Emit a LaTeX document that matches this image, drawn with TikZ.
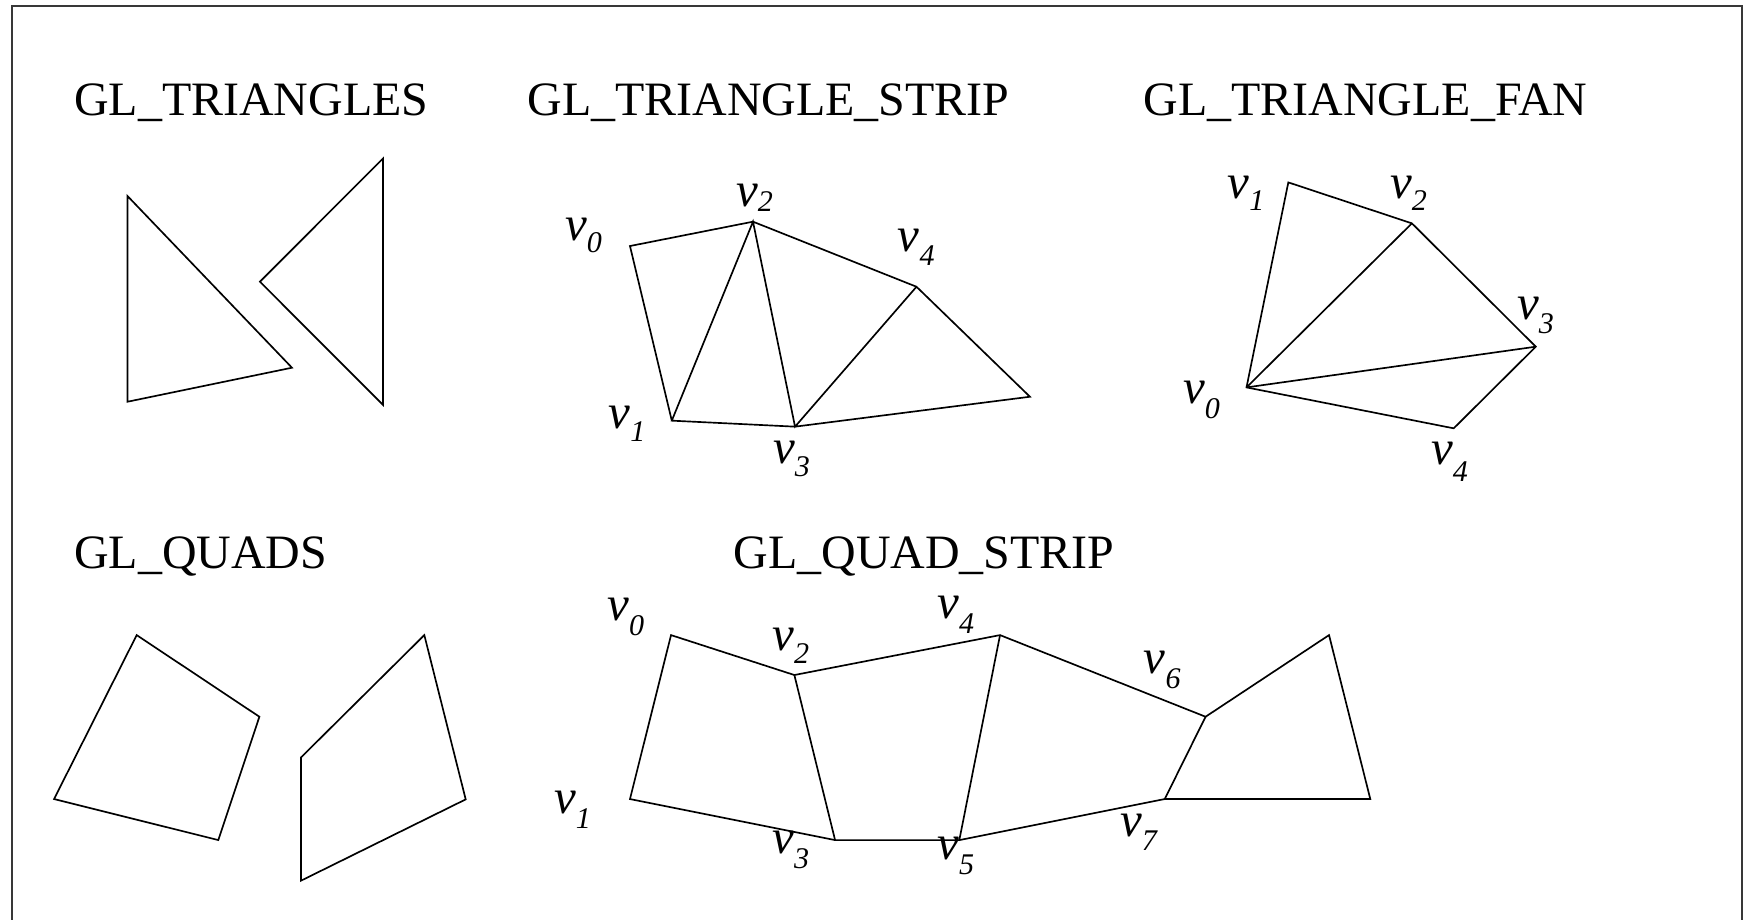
\documentclass[tikz,border=0pt]{standalone}
\usepackage{fontspec}
\setmainfont{Liberation Serif}
\newcommand{\vlab}[2]{v\raisebox{-#2pt}{\fontsize{27}{27}\selectfont #1}}
\begin{document}
\begin{tikzpicture}[x=1pt,y=-1pt,
  poly/.style={draw, line width=1.5pt, line join=miter},
  frameline/.style={draw=black!78, line width=1.9pt},
  gltitle/.style={anchor=base west, inner sep=0pt, font=\fontsize{43.1}{50}\selectfont},
  vtx/.style={anchor=base west, inner sep=0pt, font=\fontsize{44}{50}\selectfont\itshape}]
\useasboundingbox (0,0) rectangle (1568,827);
\clip (0,0) rectangle (1568,827);
% frame
\coordinate (fbl) at (10.8,850);
\coordinate (ftl) at (10.8,5.4);
\coordinate (ftr) at (1566,5.4);
\coordinate (fbr) at (1566,850);
\draw[frameline] (fbl) -- (ftl) -- (ftr) -- (fbr);

% titles
\node[gltitle] (t1) at (66.5,103.4) {GL\_TRIANGLES};
\node[gltitle] (t2) at (474,103.4) {GL\_TRIANGLE\_STRIP};
\node[gltitle] (t3) at (1028,103.4) {GL\_TRIANGLE\_FAN};
\node[gltitle] (t4) at (66.5,511) {GL\_QUADS};
\node[gltitle] (t5) at (659.4,511) {GL\_QUAD\_STRIP};

% GL_TRIANGLES
\coordinate (a1) at (114.6,176.2);
\coordinate (a2) at (262.5,330.6);
\coordinate (a3) at (114.6,361.2);
\coordinate (b1) at (344.4,142.4);
\coordinate (b2) at (233.7,253.3);
\coordinate (b3) at (344.4,364.1);
\draw[poly] (a1) -- (a2) -- (a3) -- cycle;
\draw[poly] (b1) -- (b2) -- (b3) -- cycle;

% GL_TRIANGLE_STRIP
\coordinate (s0) at (566.4,221.2);
\coordinate (s1) at (604,378.2);
\coordinate (s2) at (677,199.3);
\coordinate (s3) at (714.8,383.6);
\coordinate (s4) at (824,257.8);
\coordinate (s5) at (926,356.7);
\draw[poly] (s1) -- (s0) -- (s2) -- (s4) -- (s5) -- (s3) -- (s1) -- (s2) -- (s3) -- (s4);
\node[vtx] (ls0) at (508,216) {\vlab{0}{11}};
\node[vtx] (ls1) at (547,385) {\vlab{1}{12}};
\node[vtx] (ls2) at (661.6,186) {\vlab{2}{4}};
\node[vtx] (ls3) at (695,417) {\vlab{3}{11}};
\node[vtx] (ls4) at (807,226) {\vlab{4}{13}};

% GL_TRIANGLE_FAN
\coordinate (f0) at (1120.7,348.3);
\coordinate (f1) at (1158.3,164);
\coordinate (f2) at (1269.4,200.8);
\coordinate (f3) at (1380.8,311.7);
\coordinate (f4) at (1307,385.1);
\draw[poly] (f0) -- (f1) -- (f2) -- (f3) -- (f4) -- cycle;
\draw[poly] (f0) -- (f2);
\draw[poly] (f0) -- (f3);
\node[vtx] (lf0) at (1063.5,362.6) {\vlab{0}{13.5}};
\node[vtx] (lf1) at (1103.6,178.3) {\vlab{1}{11}};
\node[vtx] (lf2) at (1249.7,178.3) {\vlab{2}{11}};
\node[vtx] (lf3) at (1363.8,287.7) {\vlab{3}{12.5}};
\node[vtx] (lf4) at (1286.6,418) {\vlab{4}{15}};

% GL_QUADS
\coordinate (p1) at (122.9,571);
\coordinate (p2) at (233.2,644.4);
\coordinate (p3) at (196.3,755.3);
\coordinate (p4) at (48.6,718.4);
\coordinate (r1) at (381.5,571);
\coordinate (r2) at (418.7,718.7);
\coordinate (r3) at (270.6,791.8);
\coordinate (r4) at (270.6,681);
\draw[poly] (p1) -- (p2) -- (p3) -- (p4) -- cycle;
\draw[poly] (r1) -- (r2) -- (r3) -- (r4) -- cycle;

% GL_QUAD_STRIP
\coordinate (q0) at (603.3,571);
\coordinate (q1) at (566.4,718.4);
\coordinate (q2) at (714.2,606.9);
\coordinate (q3) at (750.8,755.3);
\coordinate (q4) at (899.1,571);
\coordinate (q5) at (862.5,755.3);
\coordinate (q6) at (1083.9,644.4);
\coordinate (q7) at (1047.2,718.4);
\coordinate (q8) at (1194.9,571);
\coordinate (q9) at (1232,718.4);
\draw[poly] (q1) -- (q0) -- (q2) -- (q4) -- (q6) -- (q8) -- (q9) -- (q7) -- (q5) -- (q3) -- cycle;
\draw[poly] (q2) -- (q3);
\draw[poly] (q4) -- (q5);
\draw[poly] (q6) -- (q7);
\node[vtx] (lq0) at (546,557.5) {\vlab{0}{13.5}};
\node[vtx] (lq1) at (498,731.3) {\vlab{1}{13.5}};
\node[vtx] (lq2) at (694.3,584.4) {\vlab{2}{12}};
\node[vtx] (lq3) at (694.3,767.3) {\vlab{3}{13.5}};
\node[vtx] (lq4) at (842.7,556) {\vlab{4}{13.5}};
\node[vtx] (lq5) at (842.7,773.2) {\vlab{5}{12.6}};
\node[vtx] (lq6) at (1028.3,605.4) {\vlab{6}{13.5}};
\node[vtx] (lq7) at (1006.9,752.3) {\vlab{7}{12}};
\end{tikzpicture}
\end{document}
